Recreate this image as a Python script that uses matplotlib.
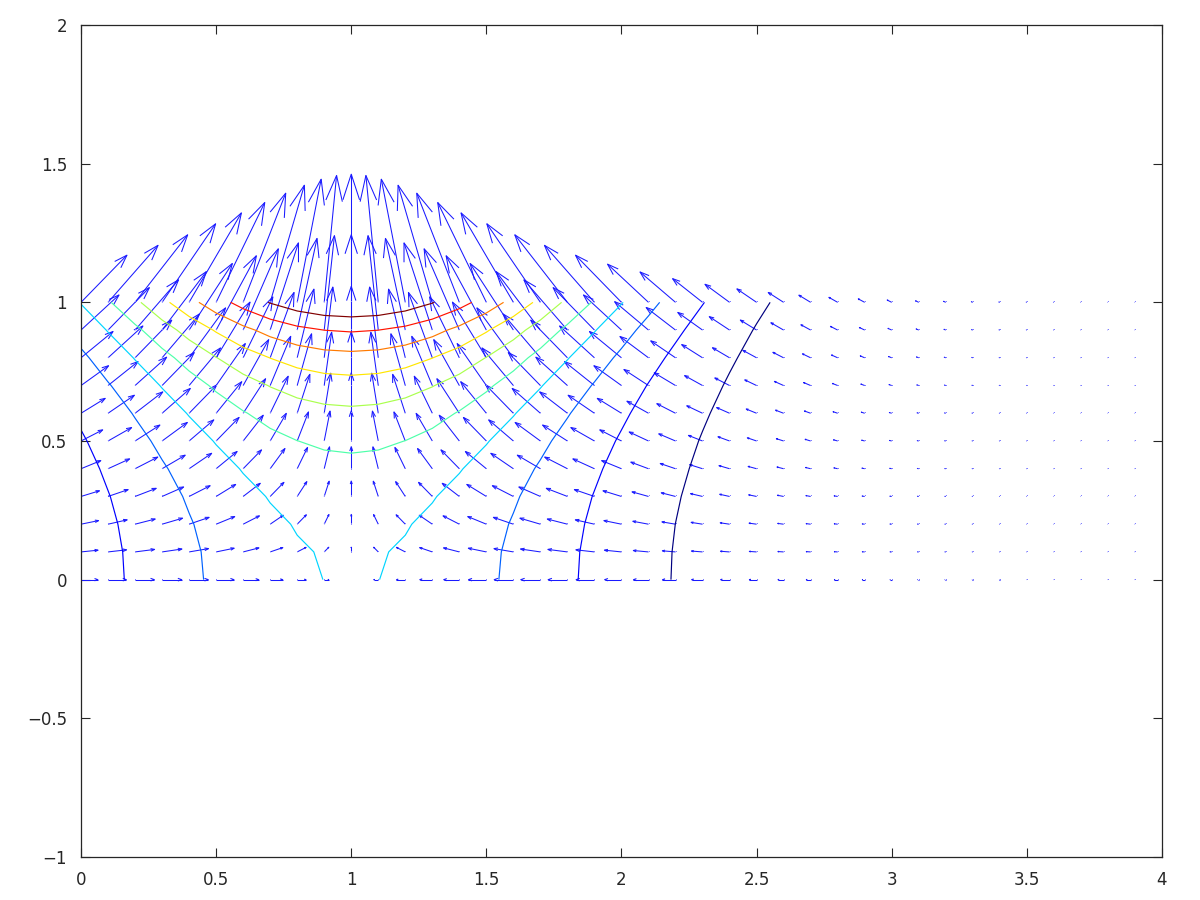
import numpy as np
import matplotlib
matplotlib.use("Agg")
import matplotlib.pyplot as plt
from matplotlib.collections import LineCollection

# grid of the field (columns x = 0..3.9, rows y = 0..1)
x_grid = np.round(np.arange(0, 4.0, 0.1), 1)
y_grid = np.round(np.arange(0, 1.01, 0.1), 1)

# column profile of the scalar field (read along the y=0 row), one per x column
col_value = [0.368, 0.445, 0.527, 0.613, 0.698, 0.779, 0.852, 0.914, 0.961, 0.990,
             1.000, 0.990, 0.961, 0.914, 0.852, 0.779, 0.698, 0.613, 0.527, 0.445,
             0.368, 0.298, 0.237, 0.185, 0.141, 0.105, 0.077, 0.056, 0.039, 0.027,
             0.018, 0.012, 0.008, 0.005, 0.003, 0.002, 0.001, 0.0007, 0.0004, 0.0002]
# horizontal arrow component per column (row y=0)
col_slope = [0.736, 0.801, 0.843, 0.858, 0.838, 0.779, 0.682, 0.548, 0.384, 0.198,
             0.0, -0.198, -0.384, -0.548, -0.682, -0.779, -0.838, -0.858, -0.843, -0.801,
             -0.736, -0.656, -0.569, -0.480, -0.394, -0.316, -0.247, -0.189, -0.141, -0.103,
             -0.073, -0.051, -0.035, -0.023, -0.015, -0.0097, -0.006, -0.0037, -0.0022, -0.0013]
# row profile (read along x=1 column) and vertical arrow component per row
row_value = [1.000, 1.010, 1.041, 1.094, 1.174, 1.284, 1.433, 1.632, 1.896, 2.248, 2.718]
row_slope = [0.0, 0.202, 0.416, 0.656, 0.939, 1.284, 1.720, 2.285, 3.034, 4.047, 5.437]

# 10 contour levels (navy ... dark red)
contour_levels = [0.2473, 0.4944, 0.7415, 0.9886, 1.2357,
                  1.4828, 1.7299, 1.9770, 2.2241, 2.4712]
x_ticks = [0, 0.5, 1, 1.5, 2, 2.5, 3, 3.5, 4]
y_ticks = [-1, -0.5, 0, 0.5, 1, 1.5, 2]

# tables for the library
Z = np.outer(row_value, col_value)
U = np.outer(row_value, col_slope)
V = np.outer(row_slope, col_value)
X, Y = np.meshgrid(x_grid, y_grid)

fig = plt.figure(figsize=(12, 9), dpi=100)
ax = fig.add_axes([0.0675, 0.0478, 0.9008, 0.9244])

# octave style quiver: shaft + open V head
scale = 0.085
head = 0.2
x0, y0 = X.ravel(), Y.ravel()
xe = x0 + scale * U.ravel()
ye = y0 + scale * V.ravel()
xt = x0 + scale * U.ravel() * (1 - head)
yt = y0 + scale * V.ravel() * (1 - head)
xa1 = xt + (y0 - ye) * head / 3
xa2 = xt - (y0 - ye) * head / 3
ya1 = yt - (x0 - xe) * head / 3
ya2 = yt + (x0 - xe) * head / 3

shafts = [[(a, b), (c, d)] for a, b, c, d in zip(x0, y0, xe, ye)]
heads = [[(a, b), (c, d), (e, f)] for a, b, c, d, e, f in zip(xa1, ya1, xe, ye, xa2, ya2)]
ax.add_collection(LineCollection(shafts, colors="#1a1aff", linewidths=0.75))
ax.add_collection(LineCollection(heads, colors="#1a1aff", linewidths=0.75))
mag = np.hypot(U, V).ravel()
ax.plot(x0[mag > 0], y0[mag > 0], ",", color="#8080ff")

ax.contour(x_grid, y_grid, Z, levels=contour_levels, cmap="jet", linewidths=0.85)

ax.set_xlim(0, 4)
ax.set_ylim(-1, 2)
ax.set_xticks(x_ticks)
ax.set_yticks(y_ticks)
ax.set_xticklabels([f"{t:g}" for t in x_ticks])
ax.set_yticklabels([f"{t:g}".replace("-", "\u2212") for t in y_ticks])
ax.tick_params(direction="in", length=6.5, width=0.8, top=True, right=True,
               labelsize=12, colors="#262626", pad=10)
for sp in ax.spines.values():
    sp.set_linewidth(0.9)
    sp.set_color("#262626")

fig.savefig("out.png", dpi=100)
